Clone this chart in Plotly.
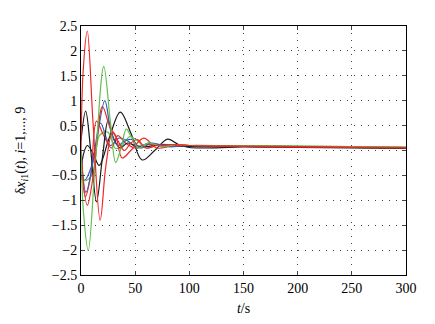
import plotly.graph_objects as go

# Key points (time in s, value)
t_red1 = [0, 2, 5.8, 11, 17.7, 23, 29, 34, 40, 46, 52, 60, 70, 85, 100, 150, 200, 250, 300]
v_red1 = [0, 1.6, 2.40, 0.6, -1.40, -0.3, 0.36, 0.2, 0.0, 0.15, 0.22, 0.05, 0.1, 0.12, 0.1, 0.09, 0.08, 0.07, 0.06]

t_green1 = [0, 2.5, 6.7, 13, 21, 27, 32, 37, 41.8, 47, 53, 62, 75, 90, 100, 150, 200, 250, 300]
v_green1 = [0, -1.3, -2.01, -0.3, 1.69, 0.6, -0.24, 0.05, 0.43, 0.25, 0.05, 0.15, 0.08, 0.12, 0.1, 0.1, 0.09, 0.08, 0.07]

t_blue1 = [0, 4.6, 13, 22, 28, 34, 41, 47, 55, 65, 80, 100, 150, 200, 250, 300]
v_blue1 = [0, -0.84, 0.0, 1.0, 0.35, 0.1, 0.2, 0.22, 0.05, 0.15, 0.08, 0.1, 0.09, 0.08, 0.07, 0.06]

t_blue2 = [0, 3, 10, 18, 27, 35, 44, 52, 62, 75, 100, 150, 200, 250, 300]
v_blue2 = [0, -0.6, -0.3, 0.55, 0.1, 0.25, 0.18, 0.05, 0.15, 0.08, 0.09, 0.09, 0.08, 0.07, 0.06]

t_black1 = [0, 4.3, 9, 14.3, 20, 25, 30, 36, 43, 50, 60, 75, 100, 150, 200, 250, 300]
v_black1 = [0.2, 0.79, 0.0, -1.03, -0.1, 0.6, 0.25, 0.05, 0.15, 0.1, 0.08, 0.12, 0.08, 0.08, 0.07, 0.06, 0.05]

t_black2 = [0, 2, 5.8, 11, 16.8, 26, 36.3, 46, 56.4, 68, 80, 90, 100, 150, 200, 250, 300]
v_black2 = [-0.6, -0.1, 0.1, -0.05, -0.30, 0.25, 0.77, 0.35, -0.19, 0.0, 0.23, 0.12, 0.06, 0.07, 0.06, 0.05, 0.04]

t_red2 = [0, 5.8, 12, 19.8, 27, 32, 38, 46, 58, 70, 85, 100, 150, 200, 250, 300]
v_red2 = [0, -1.1, -0.4, 0.88, 0.45, 0.3, -0.15, 0.0, 0.25, 0.05, 0.1, 0.1, 0.08, 0.07, 0.06, 0.05]

t_red3 = [0, 4, 9, 14.3, 21, 28, 34, 41, 50, 60, 75, 100, 150, 200, 250, 300]
v_red3 = [0, -0.93, -0.5, 0.59, 0.3, 0.05, 0.3, 0.15, 0.05, 0.12, 0.1, 0.08, 0.08, 0.07, 0.06, 0.05]

t_green2 = [0, 3, 10, 17, 24.7, 32, 38, 45, 52, 60, 72, 100, 150, 200, 250, 300]
v_green2 = [0, -0.6, -0.5, 0.3, 0.37, 0.04, 0.1, 0.28, 0.2, 0.05, 0.12, 0.1, 0.1, 0.09, 0.08, 0.07]

x_ticks = [0, 50, 100, 150, 200, 250, 300]
y_ticks = [-2.5, -2, -1.5, -1, -0.5, 0, 0.5, 1, 1.5, 2, 2.5]
y_ticklabels = ["\u22122.5", "\u22122", "\u22121.5", "\u22121", "\u22120.5", "0", "0.5", "1", "1.5", "2", "2.5"]

RED = "#f02828"
GREEN = "#62c04c"
BLUE = "#2c5fc4"
BLACK = "#1a1a1a"

series = [
    (t_black2, v_black2, BLACK),
    (t_blue2, v_blue2, BLUE),
    (t_green2, v_green2, GREEN),
    (t_red3, v_red3, RED),
    (t_black1, v_black1, BLACK),
    (t_blue1, v_blue1, BLUE),
    (t_red2, v_red2, RED),
    (t_green1, v_green1, GREEN),
    (t_red1, v_red1, RED),
]

fig = go.Figure()
for t, v, c in series:
    fig.add_trace(go.Scatter(x=t, y=v, mode="lines",
                             line=dict(color=c, width=1.2, shape="spline", smoothing=1.0),
                             showlegend=False, hoverinfo="skip"))

font = dict(family="'Liberation Serif', 'Times New Roman', Times, serif", size=14, color="black")

grid = dict(showgrid=True, gridcolor="#444444", griddash="1px,6px", gridwidth=1)

fig.update_layout(
    width=435, height=324,
    margin=dict(l=73, r=37, t=11, b=57),
    paper_bgcolor="white", plot_bgcolor="white",
    font=font,
    xaxis=dict(range=[0, 300], tickvals=x_ticks, ticks="inside", ticklen=4,
               showline=True, linecolor="black", linewidth=1, mirror="ticks",
               zeroline=False, tickfont=font,
               title=dict(text="<i>t</i>/s", standoff=8, font=font), **grid),
    yaxis=dict(range=[-2.5, 2.5], tickvals=y_ticks, ticktext=y_ticklabels,
               ticks="inside", ticklen=4,
               showline=True, linecolor="black", linewidth=1, mirror="ticks",
               zeroline=False, tickfont=font,
               title=dict(text="\u03b4<i>x</i><sub><i>i</i>1</sub>(<i>t</i>), <i>i</i>=1,..., 9",
                          standoff=22, font=font), **grid),
)

fig.write_html("out.html")
